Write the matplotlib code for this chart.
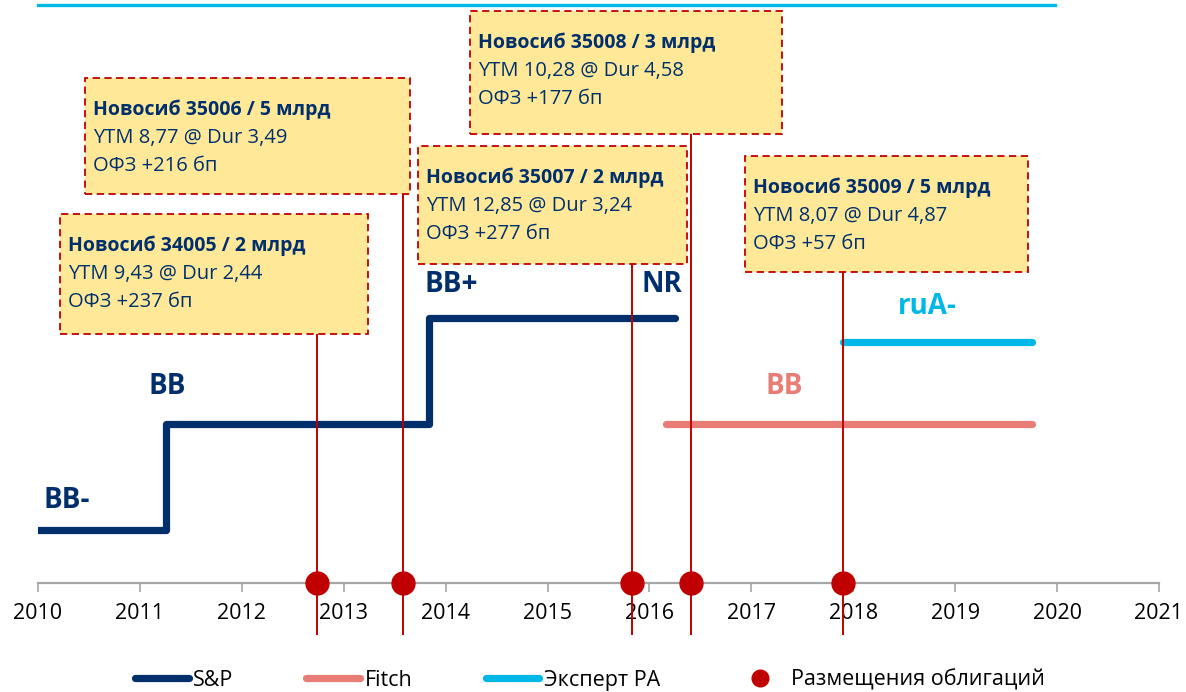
import matplotlib.pyplot as plt
from matplotlib.patches import Rectangle
from matplotlib.lines import Line2D

plt.rcParams['font.family'] = ['Open Sans', 'DejaVu Sans']

NAVY = '#002F6C'
PINK = '#E87D75'
CYAN = '#00B8E6'
RED = '#C00000'
BOX_FILL = '#FFE999'

# S&P rating history (step line), level units on an arbitrary rating scale
sp_dates = [2010.0, 2011.26, 2013.84, 2016.25]
sp_levels = [0.5, 1.5, 2.5, 2.5]
sp_labels = ['BB-', 'BB', 'BB+', 'NR']

fitch_dates = [2016.16, 2019.75]
fitch_levels = [1.5, 1.5]
fitch_label = 'BB'

expert_dates = [2017.90, 2019.75]
expert_levels = [2.27, 2.27]
expert_label = 'ruA-'

# bond placements
issue_names = ['Новосиб 34005 / 2 млрд', 'Новосиб 35006 / 5 млрд',
               'Новосиб 35007 / 2 млрд', 'Новосиб 35008 / 3 млрд',
               'Новосиб 35009 / 5 млрд']
issue_dates = [2012.74, 2013.58, 2015.83, 2016.41, 2017.90]
issue_ytm = ['9,43', '8,77', '12,85', '10,28', '8,07']
issue_dur = ['2,44', '3,49', '3,24', '4,58', '4,87']
issue_spread = [237, 216, 277, 177, 57]

years = list(range(2010, 2022))

# layout in pixels (left, top, right, bottom) for the callout boxes
box_px = [(60, 214, 368, 334), (85, 78, 410, 194), (418, 146, 687, 264),
          (470, 11, 782, 134), (745, 156, 1028, 272)]

W, H = 1186, 692
YR = 101.9  # pixels per year
fig = plt.figure(figsize=(W / 100, H / 100), dpi=100)
ax = fig.add_axes([38 / W, 109 / H, 11 * YR / W, 583 / H])
ax.set_xlim(2010, 2021)
ax.set_ylim(0, 5.5)


def px_x(px):
    return 2010 + (px - 38) / YR


def px_y(py):
    return (583 - py) / 106


# rating lines
ax.plot(sp_dates, sp_levels, drawstyle='steps-post', color=NAVY, lw=5.2,
        solid_capstyle='round', solid_joinstyle='round', zorder=2, label='S&P')
ax.plot(fitch_dates, fitch_levels, color=PINK, lw=5.2, solid_capstyle='round',
        zorder=2, label='Fitch')
ax.plot(expert_dates, expert_levels, color=CYAN, lw=5.2, solid_capstyle='round',
        zorder=2, label='Эксперт РА')

# rating labels
label_pos = [(67, 500), (167, 386), (451, 285), (662, 285)]
for (lx, ly), txt in zip(label_pos, sp_labels):
    ax.text(px_x(lx), px_y(ly), txt, color=NAVY, fontsize=20, fontweight='bold',
            ha='center', va='center')
ax.text(px_x(784), px_y(386), fitch_label, color=PINK, fontsize=20,
        fontweight='bold', ha='center', va='center')
ax.text(px_x(927), px_y(306), expert_label, color=CYAN, fontsize=20,
        fontweight='bold', ha='center', va='center')

# placements: vertical lines, dots, callouts
for i, d in enumerate(issue_dates):
    left, top, right, bottom = box_px[i]
    ax.plot([d, d], [px_y(634), px_y(bottom)], color=RED, lw=1.4, zorder=3,
            clip_on=False)
    box = Rectangle((px_x(left), px_y(bottom)), px_x(right) - px_x(left),
                    px_y(top) - px_y(bottom), facecolor=BOX_FILL, edgecolor=RED,
                    lw=1.3, linestyle=(0, (4, 2.5)), zorder=5, clip_on=False)
    ax.add_patch(box)
    tx = px_x(left + 8)
    ax.text(tx, px_y(top + 32), issue_names[i], color=NAVY, fontsize=14,
            fontweight='bold', va='center', zorder=6)
    ax.text(tx, px_y(top + 60), f'YTM {issue_ytm[i]} @ Dur {issue_dur[i]}',
            color=NAVY, fontsize=14.5, va='center', zorder=6)
    ax.text(tx, px_y(top + 88), f'ОФЗ +{issue_spread[i]} бп', color=NAVY,
            fontsize=14.5, va='center', zorder=6)

ax.plot(issue_dates, [0] * len(issue_dates), 'o', color=RED, ms=16.5, zorder=4,
        clip_on=False, label='Размещения облигаций')

# axis styling
for s in ['top', 'right', 'left']:
    ax.spines[s].set_visible(False)
ax.spines['bottom'].set_color('#A6A6A6')
ax.spines['bottom'].set_linewidth(1.6)
ax.set_yticks([])
ax.set_xticks(years)
ax.set_xticklabels([str(y) for y in years])
ax.tick_params(axis='x', length=6.5, width=1.2, color='#A6A6A6', labelsize=15.5,
               pad=8)

# decorative top rule
fig.add_artist(Line2D([38 / W, 1055 / W], [1 - 5 / H, 1 - 5 / H], color=CYAN,
                      lw=2.4, transform=fig.transFigure))

handles = [Line2D([], [], color=NAVY, lw=5.2, solid_capstyle='round'),
           Line2D([], [], color=PINK, lw=5.2, solid_capstyle='round'),
           Line2D([], [], color=CYAN, lw=5.2, solid_capstyle='round'),
           Line2D([], [], marker='o', ls='none', color=RED, ms=12)]
fig.legend(handles, ['S&P', 'Fitch', 'Эксперт РА', 'Размещения облигаций'],
           loc='center', bbox_to_anchor=(590 / W, 1 - 680 / H), ncol=4,
           frameon=False, fontsize=15.5, handlelength=2.5, handletextpad=0.2,
           columnspacing=3.4)

fig.savefig('out.png', dpi=100)
